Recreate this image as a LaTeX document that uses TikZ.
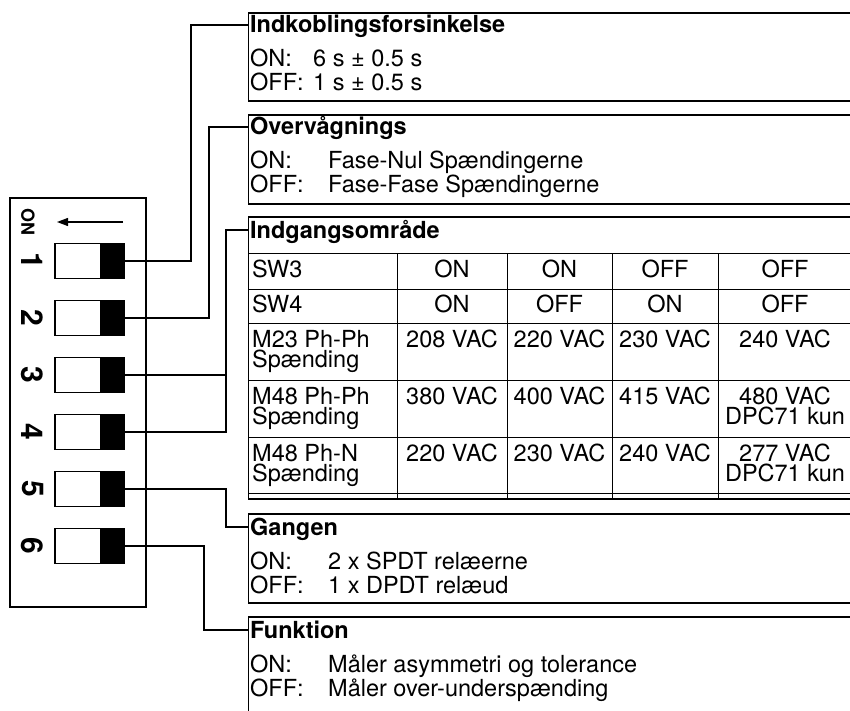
\documentclass[tikz,border=0pt]{standalone}
\usepackage{fontspec}
\setmainfont{TeX Gyre Heros}
\usetikzlibrary{arrows.meta}
\begin{document}
\begin{tikzpicture}[x=1pt,y=-1pt,
  wire/.style={line width=2pt},
  frame/.style={line width=1.2pt},
  rule/.style={line width=1pt},
  txt/.style={anchor=base west,inner sep=0pt,font=\fontsize{23.5}{20}\selectfont},
  ttl/.style={anchor=base west,inner sep=0pt,font=\fontsize{23.5}{20}\selectfont\bfseries},
  cell/.style={anchor=base,inner sep=0pt,font=\fontsize{23.5}{20}\selectfont},
  twoleft/.style={anchor=north west,align=left,inner sep=0pt,font=\fontsize{23.5}{20}\selectfont},
  twomid/.style={anchor=north,align=center,inner sep=0pt,font=\fontsize{23.5}{20}\selectfont},
  knob/.style={draw,line width=1.2pt,fill=white,minimum width=46pt,minimum height=35pt,inner sep=0pt},
  lever/.style={draw,line width=1.2pt,fill=black,minimum width=23pt,minimum height=35pt,inner sep=0pt},
  num/.style={rotate=-90,inner sep=0pt,font=\fontsize{30}{30}\selectfont\bfseries}]
\useasboundingbox (0,0) rectangle (850,711);
\clip (0,0) rectangle (850,711);

% ---- DIP switch panel ----
\draw[line width=1.5pt] (10,198) rectangle (146,607);
\node[rotate=-90,inner sep=0pt,font=\fontsize{18}{18}\selectfont\bfseries] (onlbl) at (28,222) {ON};
\coordinate (arrS) at (123,222);
\coordinate (arrE) at (57,222);
\draw[line width=1.3pt,-{Triangle[length=11pt,width=8pt]}] (arrS) -- (arrE);
\foreach \i/\c in {1/261,2/318,3/375,4/432,5/489,6/546}{
  \node[knob] (k\i) at (78,\c) {};
  \node[lever] (sw\i) at (112.5,\c) {};
  \node[num] (n\i) at (32.5,\c) {\i};
}

% ---- text boxes, open to the right ----
\draw[frame] (852,13) -| (248.5,101) -- (852,101);
\draw[frame] (852,115) -| (248.5,204) -- (852,204);
\draw[frame] (852,217) -| (248.5,499) -- (852,499);
\draw[frame] (852,514) -| (248.5,603) -- (852,603);
\draw[frame] (852,617) -| (248.5,712);

\coordinate (b1in) at (248.5,25.5);
\coordinate (b2in) at (248.5,127.5);
\coordinate (b3in) at (248.5,229.5);
\coordinate (b4in) at (248.5,526.5);
\coordinate (b5in) at (248.5,629.5);

% Indkoblingsforsinkelse
\node[ttl] (t1) at (250,33) {Indkoblingsforsinkelse};
\node[txt] (t1a) at (250,67) {ON:};
\node[txt] (t1b) at (313,67) {6 s ± 0.5 s};
\node[txt] (t1c) at (250,91) {OFF:};
\node[txt] (t1d) at (313,91) {1 s ± 0.5 s};

% Overvågnings
\node[ttl] (t2) at (250,135) {Overvågnings};
\node[txt] (t2a) at (250,169) {ON:};
\node[txt] (t2b) at (328,169) {Fase-Nul Spændingerne};
\node[txt] (t2c) at (250,193) {OFF:};
\node[txt] (t2d) at (328,193) {Fase-Fase Spændingerne};

% Indgangsområde table
\node[ttl] (t3) at (250,238) {Indgangsområde};
\foreach \yy in {253,289,323,380,437,493}{
  \draw[rule] (248.5,\yy) -- (852,\yy);
}
\foreach \xx in {397,507,612,718}{
  \draw[rule] (\xx,253) -- (\xx,499);
}
\node[txt] (r1) at (252,277) {SW3};
\node[txt] (r2) at (252,312) {SW4};
\node[twoleft] (r3) at (252,330) {M23 Ph-Ph\\Spænding};
\node[twoleft] (r4) at (252,387) {M48 Ph-Ph\\Spænding};
\node[twoleft] (r5) at (252,444) {M48 Ph-N\\Spænding};

\node[cell] at (452,277) {ON};
\node[cell] at (559.5,277) {ON};
\node[cell] at (665,277) {OFF};
\node[cell] at (785,277) {OFF};
\node[cell] at (452,312) {ON};
\node[cell] at (559.5,312) {OFF};
\node[cell] at (665,312) {ON};
\node[cell] at (785,312) {OFF};
\node[cell] at (452,347) {208 VAC};
\node[cell] at (559.5,347) {220 VAC};
\node[cell] at (665,347) {230 VAC};
\node[cell] at (785,347) {240 VAC};
\node[cell] at (452,404) {380 VAC};
\node[cell] at (559.5,404) {400 VAC};
\node[cell] at (665,404) {415 VAC};
\node[twomid] at (785,387) {480 VAC\\DPC71 kun};
\node[cell] at (452,461) {220 VAC};
\node[cell] at (559.5,461) {230 VAC};
\node[cell] at (665,461) {240 VAC};
\node[twomid] at (785,444) {277 VAC\\DPC71 kun};

% Gangen
\node[ttl] (t4) at (250,535) {Gangen};
\node[txt] (t4a) at (250,569) {ON:};
\node[txt] (t4b) at (328,569) {2 x SPDT relæerne};
\node[txt] (t4c) at (250,593) {OFF:};
\node[txt] (t4d) at (328,593) {1 x DPDT relæud};

% Funktion
\node[ttl] (t5) at (250,638) {Funktion};
\node[txt] (t5a) at (250,672) {ON:};
\node[txt] (t5b) at (328,672) {Måler asymmetri og tolerance};
\node[txt] (t5c) at (250,696) {OFF:};
\node[txt] (t5d) at (328,696) {Måler over-underspænding};

% ---- connectors from the switches to their boxes ----
\draw[wire] (sw1.east) -- ++(66,0) |- (b1in);
\draw[wire] (sw2.east) -- ++(84,0) |- (b2in);
\draw[wire] (sw3.east) -- ++(101,0);
\draw[wire] (sw4.east) -- ++(101,0) |- (b3in);
\draw[wire] (sw5.east) -- ++(101,0) |- (b4in);
\draw[wire] (sw6.east) -- ++(79,0) |- (b5in);
\end{tikzpicture}
\end{document}
